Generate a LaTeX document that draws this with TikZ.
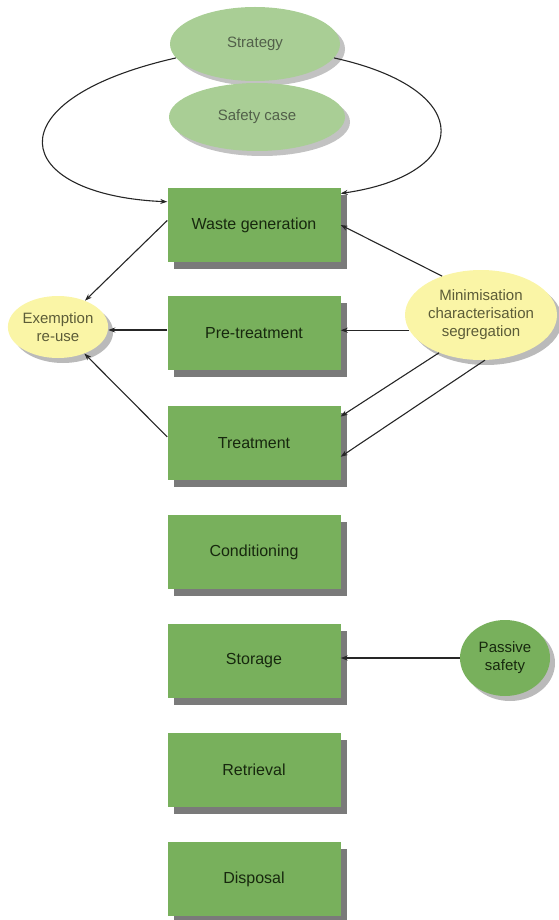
\documentclass[tikz,border=0pt]{standalone}
\usepackage{fontspec}
\setmainfont{Liberation Sans}
\usetikzlibrary{shapes.geometric,shadows,arrows.meta}

\definecolor{boxgreen}{HTML}{78B05C}
\definecolor{palegreen}{HTML}{A9CE95}
\definecolor{paleyellow}{HTML}{FAF5A6}
\definecolor{darktext}{HTML}{17280E}
\definecolor{greytext}{HTML}{52604A}
\definecolor{olivetext}{HTML}{5C5C38}

\begin{document}
\begin{tikzpicture}[x=1pt,y=-1pt,
  stage/.style={rectangle,fill=boxgreen,minimum width=173pt,minimum height=74pt,
    drop shadow={shadow xshift=6pt,shadow yshift=-7pt,fill=black!80,opacity=.65},
    font=\fontsize{16}{19}\selectfont,text=darktext},
  topic/.style={ellipse,fill=palegreen,inner sep=0pt,
    drop shadow={shadow xshift=5pt,shadow yshift=-5pt,fill=black!60,opacity=.4},
    font=\fontsize{15}{18}\selectfont,text=greytext},
  factor/.style={ellipse,fill=paleyellow,inner sep=0pt,align=center,
    drop shadow={shadow xshift=5pt,shadow yshift=-5pt,fill=black!60,opacity=.45},
    font=\fontsize{15}{18}\selectfont,text=olivetext},
  link/.style={-{Stealth[length=7pt,width=5pt]},black!85,line width=1.1pt}]

\useasboundingbox (0,0) rectangle (558,920);

% Strategy and safety case
\node[topic,minimum width=170pt,minimum height=74pt] (strategy) at (255,44) {Strategy};
\node[topic,minimum width=176pt,minimum height=68pt] (safety) at (257,117) {Safety case};

% Stages of waste management
\node[stage] (waste) at (254,225) {Waste generation};
\node[stage] (pretreat) at (254,333) {Pre-treatment};
\node[stage] (treat) at (254,443) {Treatment};
\node[stage] (cond) at (254,552) {Conditioning};
\node[stage] (storage) at (254,661) {Storage};
\node[stage] (retrieval) at (254,770) {Retrieval};
\node[stage] (disposal) at (254,879) {Disposal};

% Side ellipses
\node[factor,minimum width=100pt,minimum height=62pt] (exemption) at (58,327) {Exemption\\re-use};
\node[factor,minimum width=152pt,minimum height=90pt] (minim) at (481,315)
  {Minimisation\\characterisation\\segregation};
\node[factor,fill=boxgreen,text=darktext,minimum width=90pt,minimum height=76pt] (passive) at (505,658)
  {Passive\\safety};

% Loops from the strategy
\draw[link] (strategy.190) .. controls (-10,100) and (10,195) .. (waste.165);
\draw[link] (strategy.-10) .. controls (480,90) and (470,175) .. (waste.20);

% Exemption arrows
\draw[link] (waste.177) -- (exemption);
\draw[link] ([yshift=3pt]pretreat.west) -- ([yshift=3pt]pretreat.west -| exemption.east);
\draw[link] (treat.176) -- (exemption);

% Minimisation arrows
\draw[link] (minim.135) -- (waste.east);
\draw[link] (minim.192) -- (minim.192 -| pretreat.east);
\draw[link] (minim.222) -- (treat.17);
\draw[link] (minim.275) -- (treat.-9);

% Passive safety
\draw[link] (passive.west) -- (passive.west -| storage.east);
\end{tikzpicture}
\end{document}
